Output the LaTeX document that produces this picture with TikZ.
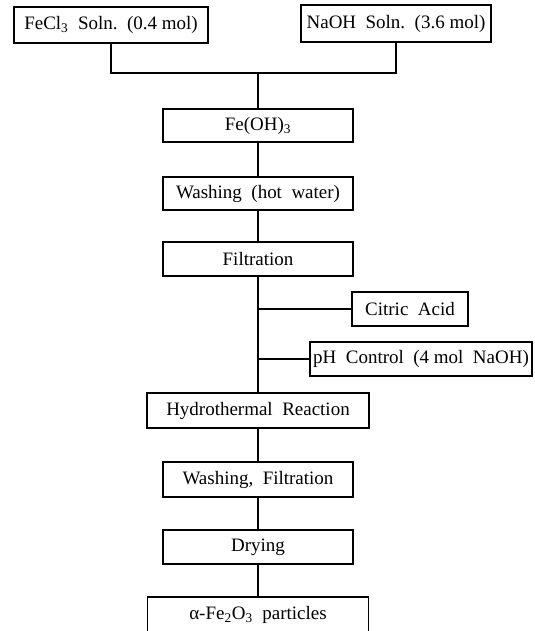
\documentclass[tikz,border=0pt]{standalone}
\usepackage{fontspec}
\setmainfont{Liberation Serif}
\usepackage{tikz}
\usetikzlibrary{positioning}

\begin{document}
\begin{tikzpicture}[
  x=0.025cm, y=-0.025cm,
  stepbox/.style={rectangle, draw=black, line width=0.9pt, inner sep=0pt, minimum width=#1, minimum height=0.85cm, align=center, font=\fontsize{13.5}{16}\selectfont},
  link/.style={line width=0.9pt, black}
]
\clip (0,0) rectangle (534,631);

% Starting solutions
\node[stepbox=4.85cm, minimum height=0.9cm] (fecl) at (111,25) {FeCl\textsubscript{3}\ \ Soln.\ \ (0.4 mol)};
\node[stepbox=4.75cm, minimum height=0.925cm] (naoh) at (396,23.5) {NaOH\ \ Soln.\ \ (3.6 mol)};
\coordinate (join) at (258,73);

% Main process chain
\node[stepbox=4.75cm, minimum height=0.825cm] (feoh) at (258,125.5) {Fe(OH)\textsubscript{3}};
\node[stepbox=4.75cm, minimum height=0.825cm] (wash) at (258,193.5) {Washing\ \ (hot\ \ water)};
\node[stepbox=4.75cm] (filt) at (258,259) {Filtration};

% Additions
\node[stepbox=2.9cm] (citric) at (410,309) {Citric\ \ Acid};
\node[stepbox=5.55cm] (ph) at (421,359) {pH\ \ Control\ \ (4 mol\ \ NaOH)};

\node[stepbox=5.55cm, minimum height=0.875cm] (hydro) at (258,410.5) {Hydrothermal\ \ Reaction};
\node[stepbox=4.75cm, minimum height=0.875cm] (washfilt) at (258,479.5) {Washing,\ \ Filtration};
\node[stepbox=4.75cm] (dry) at (258,547) {Drying};
\node[stepbox=5.525cm, minimum height=0.9cm] (final) at (258,615) {α-Fe\textsubscript{2}O\textsubscript{3}\ \ particles};

% Connectors
\draw[link] (fecl.south) |- (join) -| (naoh.south);
\draw[link] (join) -- (feoh);
\draw[link] (feoh) -- (wash);
\draw[link] (wash) -- (filt);
\draw[link] (filt) -- (hydro);
\draw[link] (filt.south |- citric.west) -- (citric.west);
\draw[link] (filt.south |- ph.west) -- (ph.west);
\draw[link] (hydro) -- (washfilt);
\draw[link] (washfilt) -- (dry);
\draw[link] (dry) -- (final);

\end{tikzpicture}
\end{document}
